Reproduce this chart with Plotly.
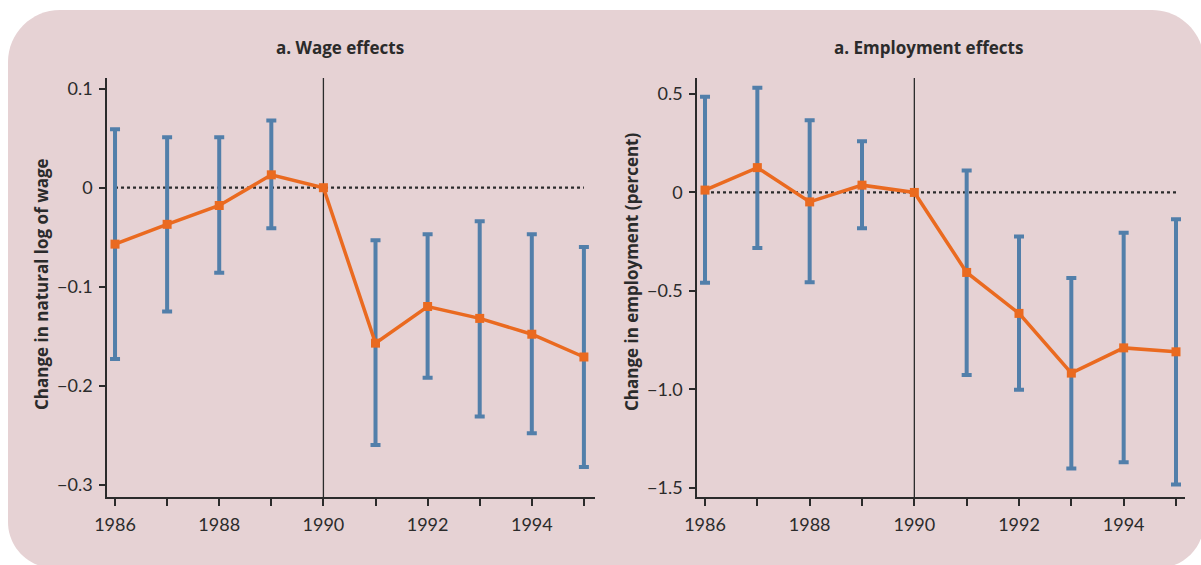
import plotly.graph_objects as go

# ---- data -------------------------------------------------------------
years = [1986, 1987, 1988, 1989, 1990, 1991, 1992, 1993, 1994, 1995]

wage_effect = [-0.057, -0.037, -0.018, 0.013, 0.0, -0.157, -0.120, -0.132, -0.148, -0.171]
wage_upper = [0.059, 0.051, 0.051, 0.068, None, -0.053, -0.047, -0.034, -0.047, -0.060]
wage_lower = [-0.173, -0.125, -0.086, -0.041, None, -0.260, -0.192, -0.231, -0.248, -0.282]

emp_effect = [0.012, 0.126, -0.048, 0.037, 0.0, -0.406, -0.614, -0.917, -0.789, -0.809]
emp_upper = [0.486, 0.532, 0.367, 0.260, None, 0.112, -0.224, -0.434, -0.204, -0.136]
emp_lower = [-0.459, -0.282, -0.456, -0.182, None, -0.927, -1.002, -1.401, -1.369, -1.483]

x_tick_vals = years
x_tick_text = ["1986", "", "1988", "", "1990", "", "1992", "", "1994", ""]
wage_tick_vals = [0.1, 0, -0.1, -0.2, -0.3]
wage_tick_text = ["0.1", "0", "\u22120.1", "\u22120.2", "\u22120.3"]
emp_tick_vals = [0.5, 0, -0.5, -1.0, -1.5]
emp_tick_text = ["0.5", "0", "\u22120.5", "\u22121.0", "\u22121.5"]

panel_titles = ["a. Wage effects", "a. Employment effects"]
y_titles = ["Change in natural log of wage", "Change in employment (percent)"]

# ---- styling ----------------------------------------------------------
W, H = 1201, 565
BG = "#E6D2D4"
BLUE = "#527FAA"
ORANGE = "#EA6A20"
INK = "#2B2B2B"
TICK_FONT = "Lato"
TITLE_FONT = "Open Sans"


def px_x(p):
    return p / W


def px_y(p):
    return 1 - p / H


fig = go.Figure()


def add_panel(effect, upper, lower, xa, ya):
    ex, ey, plus, minus = [], [], [], []
    for yr, v, hi, lo in zip(years, effect, upper, lower):
        if hi is None:
            continue
        ex.append(yr)
        ey.append(v)
        plus.append(hi - v)
        minus.append(v - lo)
    fig.add_trace(go.Scatter(
        x=ex, y=ey, mode="markers", xaxis=xa, yaxis=ya,
        marker=dict(size=1, opacity=0),
        error_y=dict(type="data", array=plus, arrayminus=minus, symmetric=False,
                     color=BLUE, thickness=4, width=5),
        showlegend=False, hoverinfo="skip",
    ))
    fig.add_trace(go.Scatter(
        x=years, y=effect, mode="lines+markers", xaxis=xa, yaxis=ya,
        line=dict(color=ORANGE, width=3.5),
        marker=dict(symbol="square", size=9, color=ORANGE),
        showlegend=False,
    ))


add_panel(wage_effect, wage_upper, wage_lower, "x", "y")
add_panel(emp_effect, emp_upper, emp_lower, "x2", "y2")

y_dom = [px_y(497), px_y(78)]

x_common = dict(
    tickvals=x_tick_vals, ticktext=x_tick_text, ticks="outside", ticklen=7,
    tickwidth=1.5, tickcolor=INK, showline=True, linecolor=INK, linewidth=1.5,
    showgrid=False, zeroline=False, ticklabelstandoff=4, automargin=False,
    tickfont=dict(family=TICK_FONT, size=18, color=INK),
)
y_common = dict(
    ticks="outside", ticklen=6, tickwidth=1.5, tickcolor=INK, showline=True,
    linecolor=INK, linewidth=1.5, showgrid=False, zeroline=False, automargin=False,
    ticklabelstandoff=3, tickfont=dict(family=TICK_FONT, size=18, color=INK),
    domain=y_dom,
)

fig.update_layout(
    template="none",
    width=W, height=H,
    margin=dict(l=0, r=0, t=0, b=0, pad=0),
    paper_bgcolor="white", plot_bgcolor="rgba(0,0,0,0)",
    xaxis=dict(x_common, domain=[px_x(107), px_x(595)], range=[1985.846, 1995.213], anchor="y"),
    yaxis=dict(y_common, tickvals=wage_tick_vals, ticktext=wage_tick_text,
               range=[-0.3124, 0.1108], anchor="x"),
    xaxis2=dict(x_common, domain=[px_x(697), px_x(1185)], range=[1985.847, 1995.172], anchor="y2"),
    yaxis2=dict(y_common, tickvals=emp_tick_vals, ticktext=emp_tick_text,
                range=[-1.546, 0.581], anchor="x2"),
)

# rounded backdrop panel
left, top, right, bottom = 8, 10, 1204, 568
r_top, r_bot = 52, 46
k = 0.5523


def P(x, y):
    return f"{px_x(x):.5f},{px_y(y):.5f}"


path = (
    f"M {P(left + r_top, top)} "
    f"L {P(right - r_top, top)} "
    f"C {P(right - r_top + k * r_top, top)} {P(right, top + r_top - k * r_top)} {P(right, top + r_top)} "
    f"L {P(right, bottom - r_bot)} "
    f"C {P(right, bottom - r_bot + k * r_bot)} {P(right - r_bot + k * r_bot, bottom)} {P(right - r_bot, bottom)} "
    f"L {P(left + r_bot, bottom)} "
    f"C {P(left + r_bot - k * r_bot, bottom)} {P(left, bottom - r_bot + k * r_bot)} {P(left, bottom - r_bot)} "
    f"L {P(left, top + r_top)} "
    f"C {P(left, top + r_top - k * r_top)} {P(left + r_top - k * r_top, top)} {P(left + r_top, top)} Z"
)
fig.add_shape(type="path", path=path, xref="paper", yref="paper",
              fillcolor=BG, line=dict(width=0), layer="below")

# 1990 divider and zero reference line in each panel
for xa, ya in [("x", "y"), ("x2", "y2")]:
    fig.add_shape(type="line", xref=xa, yref=f"{ya} domain", x0=1990, x1=1990, y0=0, y1=1,
                  line=dict(color=INK, width=1.3), layer="below")
    fig.add_shape(type="line", xref=xa, yref=ya, x0=years[0], x1=years[-1], y0=0, y1=0,
                  line=dict(color=INK, width=2.2, dash="dot"), layer="below")

# panel titles and axis titles
for cx, txt in zip([340, 928], panel_titles):
    fig.add_annotation(x=px_x(cx), y=px_y(47), xref="paper", yref="paper", text=f"<b>{txt}</b>",
                       showarrow=False, font=dict(family=TITLE_FONT, size=17, color=INK),
                       xanchor="center", yanchor="middle")
for cx, cy, txt in zip([41, 631], [284, 272], y_titles):
    fig.add_annotation(x=px_x(cx), y=px_y(cy), xref="paper", yref="paper", text=f"<b>{txt}</b>",
                       showarrow=False, textangle=-90, font=dict(family=TITLE_FONT, size=17, color=INK),
                       xanchor="center", yanchor="middle")

fig.write_html("out.html")
